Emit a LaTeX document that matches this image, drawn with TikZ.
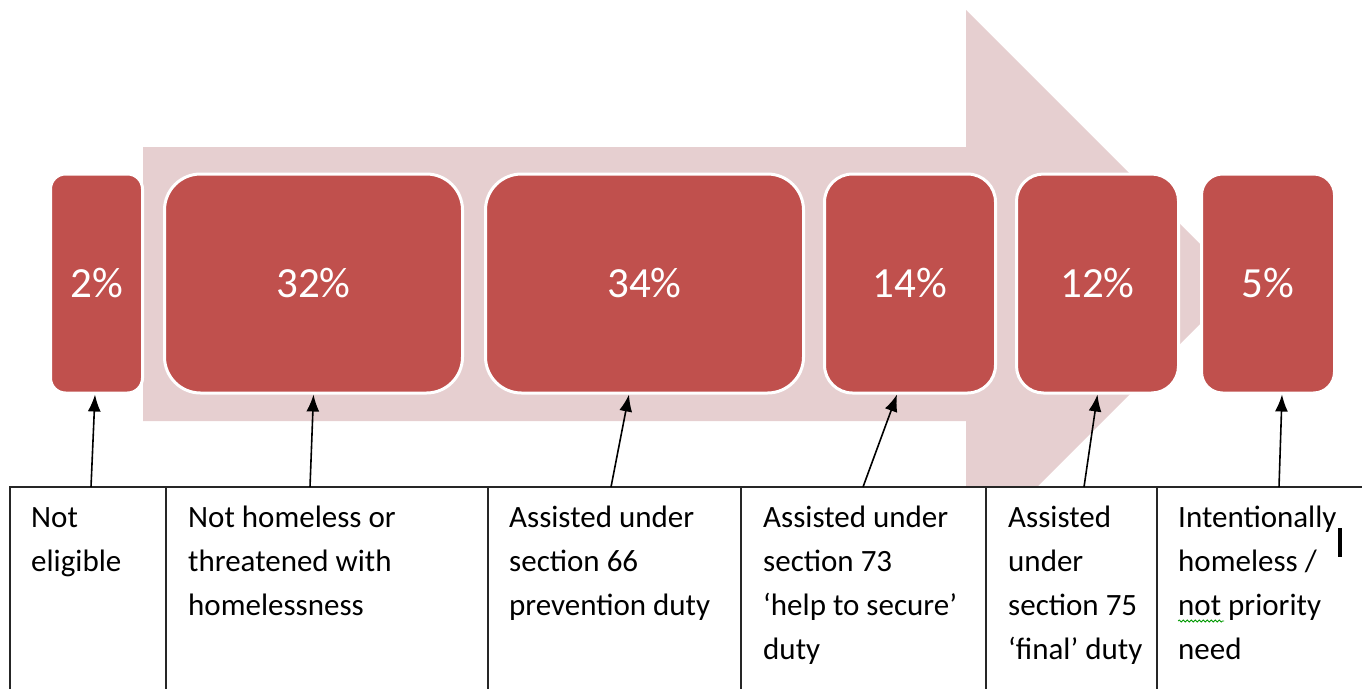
\documentclass[tikz,border=0pt]{standalone}
\usepackage{fontspec}
\setmainfont{Carlito}
\usetikzlibrary{arrows.meta,decorations.pathmorphing}
\definecolor{boxred}{HTML}{C0504D}
\definecolor{arrowpink}{HTML}{E6CFD0}
\begin{document}
\begin{tikzpicture}[x=1pt, y=-1pt,
        pct/.style={fill=boxred, draw=white, line width=3pt, text=white, inner sep=0pt,
            minimum height=219pt, font=\fontsize{43}{50}\selectfont},
        lbl/.style={anchor=base west, align=left, inner sep=0pt, font=\fontsize{31}{44}\selectfont},
        grid/.style={line width=1.8pt, draw=black!85},
        pointer/.style={line width=1.6pt, -{Latex[length=17pt, width=13pt]}}]
        \useasboundingbox (0, 0) rectangle (1362, 688);

        \fill[arrowpink] (143, 147) -- (966, 147) -- (966, 10) -- (1240, 284)
            -- (966, 558) -- (966, 421) -- (143, 421) -- cycle;

        \node[pct, minimum width=92pt, rounded corners=15pt] (b1) at (96.5, 283.5) {2\%};
        \node[pct, minimum width=298pt, rounded corners=36pt] (b2) at (313.5, 283.5) {32\%};
        \node[pct, minimum width=318pt, rounded corners=36pt] (b3) at (644.5, 283.5) {34\%};
        \node[pct, minimum width=171pt, rounded corners=28pt] (b4) at (910, 283.5) {14\%};
        \node[pct, minimum width=162pt, rounded corners=27pt] (b5) at (1097.5, 283.5) {12\%};
        \node[pct, minimum width=133pt, rounded corners=21pt] (b6) at (1268, 283.5) {5\%};

        \fill[white] (10, 487) rectangle (1362, 700);
        \draw[grid] (1362, 487) -- (10, 487) -- (10, 700);
        \draw[grid] (166, 487) -- (166, 700);
        \draw[grid] (488, 487) -- (488, 700);
        \draw[grid] (741, 487) -- (741, 700);
        \draw[grid] (986, 487) -- (986, 700);
        \draw[grid] (1157, 487) -- (1157, 700);

        % base anchor sits on the last line
        \node[lbl] (t1) at (31, 571) {Not\\eligible};
        \node[lbl] (t2) at (188, 615) {Not homeless or\\threatened with\\homelessness};
        \node[lbl] (t3) at (509, 615) {Assisted under\\section 66\\prevention duty};
        \node[lbl] (t4) at (763, 659) {Assisted under\\section 73\\‘help to secure’\\duty};
        \node[lbl] (t5) at (1008, 659) {Assisted\\under\\section 75\\‘final’ duty};
        \node[lbl] (t6) at (1178, 659) {Intentionally\\homeless /\\not priority\\need};

        \coordinate (a1) at (91, 487);
        \coordinate (a2) at (310, 487);
        \coordinate (a3) at (611, 487);
        \coordinate (a4) at (863, 487);
        \coordinate (a5) at (1084, 487);
        \coordinate (a6) at (1279, 487);

        \draw[pointer] (a1) -- ([xshift=-1.5pt]b1.south);
        \draw[pointer] (a2) -- (b2.south);
        \draw[pointer] (a3) -- ([xshift=-15.5pt]b3.south);
        \draw[pointer] (a4) -- ([xshift=-13pt]b4.south);
        \draw[pointer] (a5) -- (b5.south);
        \draw[pointer] (a6) -- ([xshift=14pt]b6.south);

        \fill (1338, 528) rectangle (1342, 557);
        \draw[green!60!black, line width=0.8pt, decorate,
            decoration={snake, amplitude=1pt, segment length=4pt}] (1178, 621) -- (1224, 621);
    \end{tikzpicture}
\end{document}
